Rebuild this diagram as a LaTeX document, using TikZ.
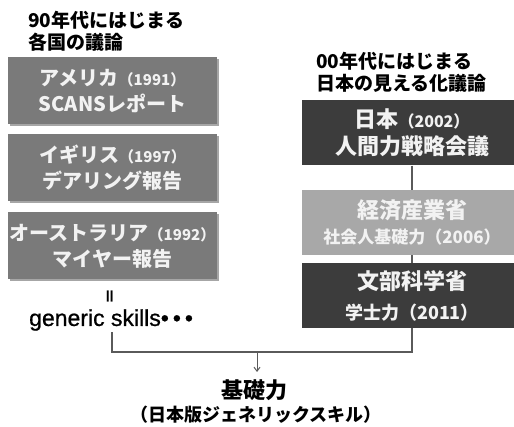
\documentclass[tikz,border=0pt]{standalone}
\usepackage{fontspec}
\newfontfamily\jp{Noto Sans CJK JP}
\newfontfamily\lat[FakeBold=0.8]{Liberation Sans}
\usetikzlibrary{shadows,arrows.meta}
\definecolor{leftgray}{HTML}{7A7A7A}
\definecolor{darkbox}{HTML}{3C3C3C}
\definecolor{lightbox}{HTML}{A8A8A8}
\definecolor{linegray}{HTML}{5A5A5A}
\definecolor{boxtext}{HTML}{F2F2F2}
\tikzset{
  jpfont/.style={font=\jp\bfseries},
  header/.style={jpfont, anchor=north west, align=left, text=black, inner sep=0pt},
  leftbox/.style={jpfont, fill=leftgray, text=boxtext, align=center, minimum width=209pt, minimum height=67pt, inner sep=0pt,
    drop shadow={shadow xshift=1.5pt, shadow yshift=-1.5pt, opacity=0.35, fill=black}},
  rightbox/.style={jpfont, text=boxtext, align=center, minimum width=220pt, minimum height=65pt, inner sep=0pt},
  conn/.style={draw=linegray, line width=1.2pt},
}
\newcommand{\yr}[2]{{\fontsize{#1}{#1}\selectfont （#2）}}
\begin{document}
\begin{tikzpicture}[x=1pt,y=-1pt]
\useasboundingbox (0,0) rectangle (514,427);
\clip (0,0) rectangle (514,427);
\fill[white] (0,0) rectangle (514,427);

% headers
\node[header, font=\jp\bfseries\fontsize{19}{22}\selectfont] (h1) at (28,11) {90年代にはじまる\\各国の議論};
\node[header, font=\jp\bfseries\fontsize{19}{22}\selectfont] (h2) at (316,52) {00年代にはじまる\\日本の見える化議論};

% left boxes
\node[leftbox, font=\jp\bfseries\fontsize{20}{26}\selectfont] (usa) at (112.5,91) {アメリカ\yr{15}{1991}\\SCANSレポート};
\node[leftbox, font=\jp\bfseries\fontsize{20}{26}\selectfont] (uk) at (112.5,168) {イギリス\yr{15}{1997}\\デアリング報告};
\node[leftbox, font=\jp\bfseries\fontsize{20}{26}\selectfont] (aus) at (112.5,246) {オーストラリア\yr{15}{1992}\\マイヤー報告};

\node[jpfont, font=\jp\bfseries\fontsize{16}{16}\selectfont, rotate=90, inner sep=0pt] (eq) at (112,297) {＝};
\node[font=\lat\fontsize{23}{23}\selectfont, text=black, anchor=west, inner sep=0pt] (gen) at (29,320) {generic skills•\hspace{4pt}•\hspace{4pt}•};

% right boxes
\node[rightbox, fill=darkbox, font=\jp\bfseries\fontsize{22}{27}\selectfont] (jp) at (412,133) {日本\yr{16}{2002}\\人間力戦略会議};
\node[rightbox, fill=lightbox, font=\jp\bfseries\fontsize{22}{25}\selectfont] (meti) at (412,222.5) {経済産業省\\{\fontsize{17}{17}\selectfont 社会人基礎力（2006）}};
\node[rightbox, fill=darkbox, font=\jp\bfseries\fontsize{22}{30}\selectfont] (mext) at (412,295.5) {文部科学省\\{\fontsize{18}{18}\selectfont 学士力（2011）}};

% bottom
\node[jpfont, font=\jp\bfseries\fontsize{22}{22}\selectfont, text=black, inner sep=1pt] (kiso) at (254,390) {基礎力};
\node[jpfont, font=\jp\bfseries\fontsize{18}{18}\selectfont, text=black, inner sep=1pt] (sub) at (256,415) {（日本版ジェネリックスキル）};

\coordinate (j) at (412,352);
\coordinate (k) at (112,352);
\coordinate (m) at (257,352);
\coordinate (a) at (257,372);
\coordinate (g) at (112,332);

\draw[conn] (jp.south -| j) -- (meti.north -| j);
\draw[conn] (meti.south -| j) -- (mext.north -| j);
\draw[conn] (mext.south -| j) -- (j) -- (k) -- (g);
\draw[conn, line width=1pt, -{Straight Barb[length=4pt,width=6pt]}] (m) -- (a);
\end{tikzpicture}
\end{document}
